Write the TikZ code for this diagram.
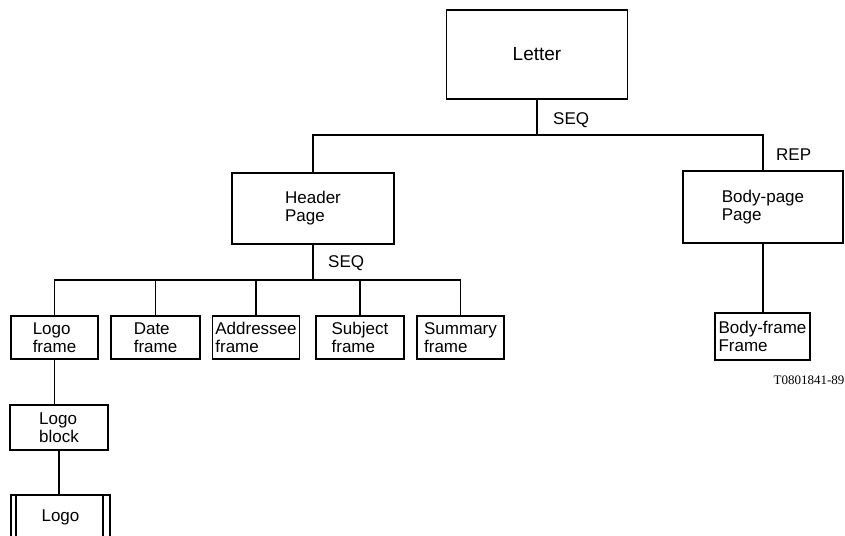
\documentclass[tikz,border=0pt]{standalone}
\usepackage{fontspec}
\setmainfont{Liberation Sans}
\newfontfamily\tagfont{Liberation Serif}

\begin{document}
\begin{tikzpicture}[x=1pt, y=-1pt,
    box/.style={draw, line width=1.6pt, align=left, inner sep=3pt,
      font=\fontsize{17}{18}\selectfont},
    link/.style={line width=1.1pt},
    lbl/.style={anchor=west, inner sep=0pt, font=\fontsize{17}{18}\selectfont}]
  \useasboundingbox (0,0) rectangle (845,535);
  \clip (0,0) rectangle (845,535);

  % top level
  \node[box, minimum width=181pt, minimum height=89pt,
    font=\fontsize{19}{21}\selectfont] (letter) at (537,54.5) {Letter};

  \node[box, minimum width=162pt, minimum height=71pt] (header) at (313,208.5) {Header\\Page};
  \node[box, minimum width=160pt, minimum height=72pt] (bodypage) at (763,207) {Body-page\\Page};

  % frames of the header page
  \node[box, minimum width=87pt, minimum height=43pt] (logoframe) at (54.5,337.5) {Logo\\frame};
  \node[box, minimum width=89pt, minimum height=43pt] (dateframe) at (155.5,337.5) {Date\\frame};
  \node[box, minimum width=86pt, minimum height=43pt] (addrframe) at (256,337.5) {Addressee\\frame};
  \node[box, minimum width=88pt, minimum height=43pt] (subjframe) at (360,337.5) {Subject\\frame};
  \node[box, minimum width=87pt, minimum height=43pt] (sumframe) at (460.5,337.5) {Summary\\frame};

  \node[box, minimum width=95pt, minimum height=47pt] (bodyframe) at (762.5,336.5) {Body-frame\\Frame};

  \node[box, minimum width=98pt, minimum height=45pt] (logoblock) at (59,427.5) {Logo\\block};
  \node[box, minimum width=99pt, minimum height=44pt] (logo) at (60.5,517) {Logo};
  \draw[line width=1.6pt] ([xshift=6pt]logo.north west) -- ([xshift=6pt]logo.south west);
  \draw[line width=1.6pt] ([xshift=-8pt]logo.north east) -- ([xshift=-8pt]logo.south east);

  % connectors
  \coordinate (topbus) at (0,135);
  \coordinate (lowbus) at (0,280);
  \draw[link] (letter.south) -- (letter.south |- topbus);
  \draw[link] (header.north) |- (bodypage.north |- topbus) -- (bodypage.north);
  \draw[link] (header.south) -- (header.south |- lowbus);
  \draw[link] (logoframe.north) |- (sumframe.north |- lowbus) -- (sumframe.north);
  \foreach \n in {dateframe,addrframe,subjframe}
    \draw[link] (\n.north) -- (\n.north |- lowbus);
  \draw[link] (bodypage.south) -- (bodypage.south |- bodyframe.north);
  \draw[link] (logoframe.south) -- (logoframe.south |- logoblock.north);
  \draw[link] (logoblock.south) -- (logoblock.south |- logo.north);

  \node[lbl] (seqtop) at (553,120) {SEQ};
  \node[lbl] (seqhdr) at (328,263) {SEQ};
  \node[lbl] (rep) at (776,155) {REP};
  \node[font=\tagfont\fontsize{13}{15}\selectfont] (tag) at (809,380) {T0801841-89};
\end{tikzpicture}
\end{document}
